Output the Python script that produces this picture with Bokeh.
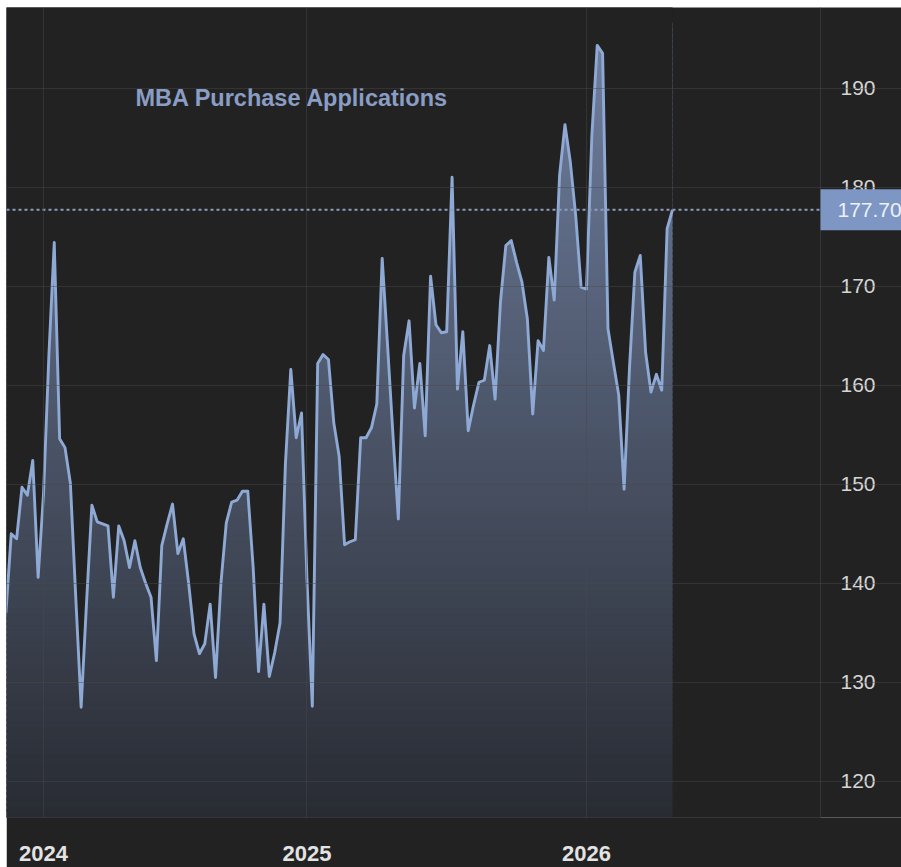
import numpy as np
from bokeh.plotting import figure
from bokeh.models import FixedTicker, Span, Label, Spacer
from bokeh.layouts import column, row
from bokeh.embed import file_html
from bokeh.resources import INLINE

# ---------------- data ----------------
TITLE = "MBA Purchase Applications"
VALUES = [
    137.0, 145.0, 144.5, 149.7, 148.9, 152.4, 140.6, 149.0, 163.0, 174.4,
    154.6, 153.7, 150.1, 138.6, 127.5, 138.0, 147.9, 146.2, 146.0, 145.8,
    138.6, 145.8, 144.3, 141.6, 144.3, 141.6, 140.0, 138.6, 132.2, 143.8,
    146.0, 148.0, 143.0, 144.5, 140.0, 134.9, 132.9, 133.9, 137.9, 130.5,
    140.0, 146.1, 148.2, 148.4, 149.3, 149.3, 141.6, 131.1, 137.9, 130.6,
    133.0, 136.0, 152.1, 161.6, 154.7, 157.2, 140.5, 127.6, 162.2, 163.1,
    162.6, 156.2, 152.8, 143.9, 144.2, 144.4, 154.7, 154.7, 155.7, 158.1,
    172.8, 164.0, 155.0, 146.5, 163.0, 166.5, 157.7, 162.2, 154.9, 171.0,
    166.1, 165.3, 165.4, 181.0, 159.6, 165.4, 155.4, 158.0, 160.3, 160.5,
    164.0, 158.6, 168.4, 174.1, 174.6, 172.4, 170.4, 166.7, 157.1, 164.5,
    163.5, 172.9, 168.6, 181.2, 186.3, 182.5, 177.1, 169.9, 169.7, 185.2,
    194.3, 193.5, 165.7, 162.3, 159.0, 149.5, 161.7, 171.4, 173.1, 163.3,
    159.3, 161.1, 159.5, 175.8, 177.7,
]
YEAR_TICK_IDX = [7, 56, 108]
YEAR_LABELS = ["2024", "2025", "2026"]
Y_TICKS = [120, 130, 140, 150, 160, 170, 180, 190]
LAST_VALUE = VALUES[-1]
IDX = list(range(len(VALUES)))

# ---------------- style / layout ----------------
BG = "#222222"
LINE = "#8fa9d5"
TITLE_COLOR = "#8a9dc5"
GRID = "#4a4a4a"
BORDER = "#35353b"
DOT = "#8d9dbd"
BOX = "#7d96c4"
FONT = "Liberation Sans"

# pixel -> data helpers (page pixels; figure starts at x=6, y=7)
PX_X0, PX_DX = 5.37, 5.376
PX_Y190, PX_PER_UNIT = 87.5, 9.907
def px_to_i(px):
    return (px - PX_X0) / PX_DX
def py_to_v(py):
    return 190 - (py - PX_Y190) / PX_PER_UNIT

X_RANGE = (px_to_i(6), px_to_i(901))
X_AXIS_AT = px_to_i(820)          # where the price axis sits
Y_RANGE = (py_to_v(817), py_to_v(7))

p = figure(frame_width=895, frame_height=810,
           x_range=X_RANGE, y_range=Y_RANGE,
           y_axis_location="right",
           output_backend="svg", toolbar_location=None,
           min_border_left=0, min_border_top=0,
           min_border_right=0, min_border_bottom=50,
           background_fill_color=BG, border_fill_color=BG)
p.outline_line_color = None

# gradient fill under the curve: stacked bands, then mask above the line
top_rgb = np.array([114, 130, 163])
bot_rgb = np.array([40, 43, 50])
n_bands = 140
edges = np.linspace(Y_RANGE[0], max(VALUES) + 2, n_bands + 1)
mids = (edges[:-1] + edges[1:]) / 2
fr = (Y_RANGE[1] - mids) / (Y_RANGE[1] - Y_RANGE[0])
cols = ["#%02x%02x%02x" % tuple(int(round(c)) for c in (top_rgb * (1 - f) + bot_rgb * f)) for f in fr]
overlap = (edges[1] - edges[0]) * 0.5
p.quad(left=IDX[0], right=IDX[-1], bottom=edges[:-1], top=edges[1:] + overlap,
       fill_color=cols, line_color=None)
p.varea(x=IDX, y1=VALUES, y2=Y_RANGE[1] + 5, fill_color=BG)

p.line(IDX, VALUES, line_color=LINE, line_width=2.9, line_join="round")

# grids (drawn above the fill, stopping at the price axis)
p.xgrid.ticker = FixedTicker(ticks=YEAR_TICK_IDX)
p.ygrid.ticker = FixedTicker(ticks=Y_TICKS)
p.ygrid.bounds = (X_RANGE[0], X_AXIS_AT)
for g in (p.xgrid, p.ygrid):
    g.grid_line_color = GRID
    g.grid_line_alpha = 0.45
    g.grid_line_width = 1
    g.level = "overlay"

# axes
xa = p.xaxis[0]
xa.ticker = FixedTicker(ticks=YEAR_TICK_IDX)
xa.bounds = (X_RANGE[0], X_AXIS_AT)
xa.major_label_overrides = {t: l for t, l in zip(YEAR_TICK_IDX, YEAR_LABELS)}
xa.major_tick_line_color = None
xa.minor_tick_line_color = None
xa.axis_line_color = BORDER
xa.major_label_text_color = "#e3e3e3"
xa.major_label_text_font = FONT
xa.major_label_text_font_style = "bold"
xa.major_label_text_font_size = "22px"
xa.major_label_standoff = 22

ya = p.yaxis[0]
ya.fixed_location = X_AXIS_AT
ya.ticker = FixedTicker(ticks=Y_TICKS)
ya.major_tick_line_color = None
ya.minor_tick_line_color = None
ya.axis_line_color = BORDER
ya.major_label_text_color = "#d5d5d5"
ya.major_label_text_font = FONT
ya.major_label_text_font_size = "21px"
ya.major_label_standoff = 14

# last value dotted line
p.add_layout(Span(location=LAST_VALUE, dimension="width", line_color=DOT,
                  line_dash="3 3", line_width=2))

# price tag
p.add_layout(Label(x=X_AXIS_AT, y=LAST_VALUE, text=f"{LAST_VALUE:.2f}",
                   text_align="left", text_baseline="middle",
                   text_color="#eef1f7", text_font=FONT, text_font_size="21px",
                   background_fill_color=BOX,
                   padding=dict(left=17, right=10, top=14, bottom=13)))

# title
p.add_layout(Label(x=px_to_i(135), y=py_to_v(97), text=TITLE,
                   text_align="left", text_baseline="alphabetic",
                   text_color=TITLE_COLOR, text_font=FONT,
                   text_font_style="bold", text_font_size="23.5px"))

layout = column(Spacer(height=7, width=901), row(Spacer(width=6, height=860), p))
open("out.html", "w").write(file_html(layout, INLINE))
